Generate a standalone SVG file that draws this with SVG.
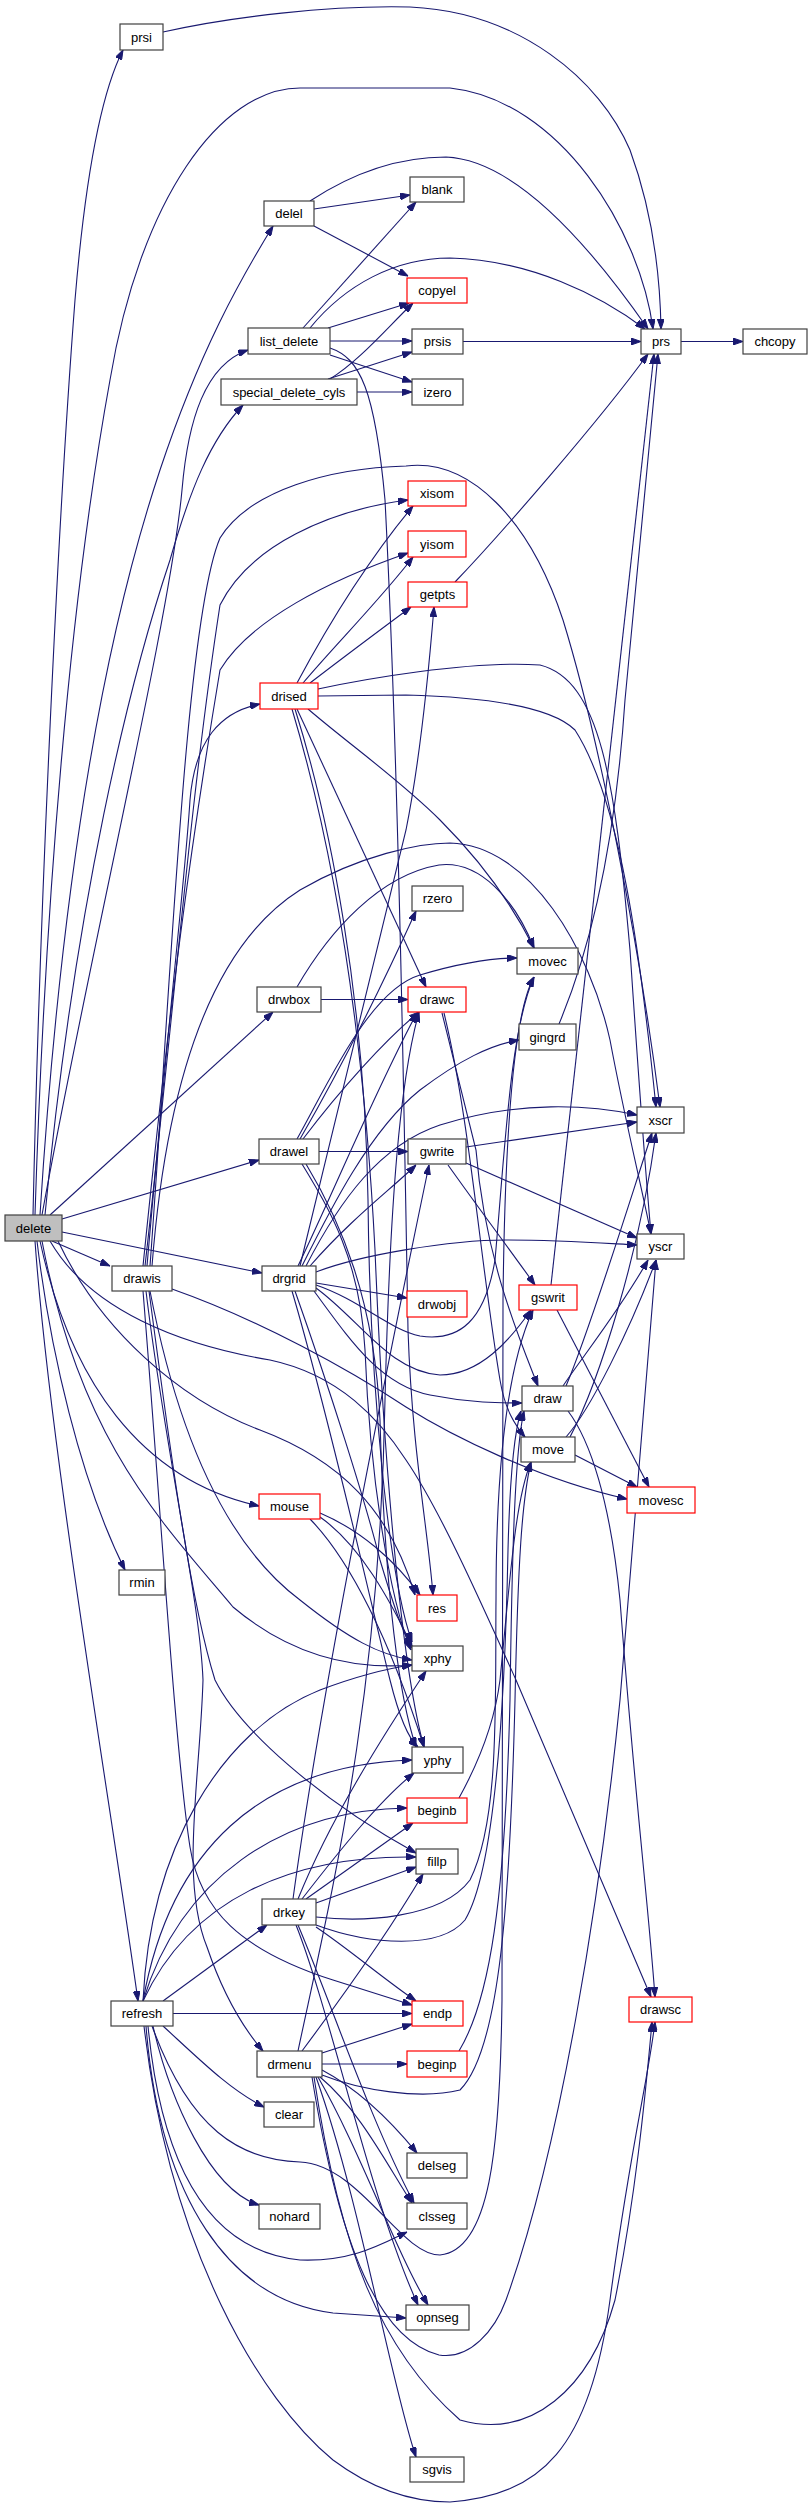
<svg xmlns="http://www.w3.org/2000/svg" width="812" height="2509" viewBox="0 0 812 2509">
<style>
.e{fill:none;stroke:#191970;stroke-width:1.1;marker-end:url(#ah)}
.n rect{fill:#fff;stroke:#404040;stroke-width:1.2}
.r rect{fill:#fff;stroke:#ff0000;stroke-width:1.2}
.g rect{fill:#bfbfbf;stroke:#404040;stroke-width:1.2}
text{font-family:"Liberation Sans",Arial,sans-serif;font-size:13px;text-anchor:middle;fill:#000}
</style>
<defs>
<marker id="ah" viewBox="0 0 10 7" refX="10" refY="3.5" markerWidth="10" markerHeight="7" markerUnits="userSpaceOnUse" orient="auto"><path d="M0,0L10,3.5L0,7z" fill="#191970" stroke="#191970" stroke-width="1"/></marker>
</defs>
<rect width="812" height="2509" fill="#fff"/>
<g id="edges">
<path class="e" d="M163,32 C230,17 330,5 410,7 C520,12 600,80 630,150 C652,210 660,270 661,329"/>
<path class="e" d="M33,1215 C40,900 58,520 75,300 C85,180 100,95 123,50"/>
<path class="e" d="M35,1215 C45,900 70,600 110,380 C140,200 220,88 300,88 L450,88 C560,100 640,230 653,329"/>
<path class="e" d="M40,1215 C60,900 100,650 160,470 C200,350 240,280 273,226"/>
<path class="e" d="M42,1215 C90,950 170,620 182,490 C188,420 205,365 248,350"/>
<path class="e" d="M45,1215 C75,900 130,680 170,560 C190,490 210,440 243,405"/>
<path class="e" d="M50,1215 L273,1012"/>
<path class="e" d="M62,1219 L259,1160"/>
<path class="e" d="M62,1232 L262,1273"/>
<path class="e" d="M52,1241 L110,1266"/>
<path class="e" d="M40,1241 C70,1380 140,1480 259,1506"/>
<path class="e" d="M37,1241 C50,1350 80,1480 125,1570"/>
<path class="e" d="M35,1241 C50,1450 110,1800 138,2001"/>
<path class="e" d="M50,1241 C90,1310 180,1345 270,1360 C340,1375 380,1420 406,1460 C440,1510 480,1600 516,1680 L651,1997"/>
<path class="e" d="M58,1241 C100,1330 180,1400 260,1430 C340,1460 390,1510 415,1595"/>
<path class="e" d="M42,1241 C80,1440 160,1520 233,1607 C290,1655 350,1670 412,1665"/>
<path class="e" d="M314,209 L410,195"/>
<path class="e" d="M314,226 L408,276"/>
<path class="e" d="M310,201 C345,178 390,157 446,157 C520,160 600,260 648,329"/>
<path class="e" d="M303,328 L416,202"/>
<path class="e" d="M328,328 L409,303"/>
<path class="e" d="M310,328 C345,285 395,258 450,258 C530,260 600,295 645,329"/>
<path class="e" d="M330,341 L412,341"/>
<path class="e" d="M330,355 L412,382"/>
<path class="e" d="M330,348 C360,358 375,390 385,500 C398,750 404,1100 408,1330 C412,1450 428,1530 433,1595"/>
<path class="e" d="M330,379 C360,360 385,330 413,303"/>
<path class="e" d="M328,379 L412,352"/>
<path class="e" d="M357,392 L412,392"/>
<path class="e" d="M463,341.5 L641,341.5"/>
<path class="e" d="M681,341.5 L743,341.5"/>
<path class="e" d="M455,582 C500,535 600,420 648,354"/>
<path class="e" d="M551,1285 L654,354"/>
<path class="e" d="M559,1024 C590,950 615,850 625,700 L658,354"/>
<path class="e" d="M297,683 C320,640 360,570 413,506"/>
<path class="e" d="M303,683 C335,645 380,600 413,557"/>
<path class="e" d="M310,683 C340,660 380,630 411,607"/>
<path class="e" d="M318,689 C360,680 470,660 540,665 C600,680 615,780 630,950 C640,1100 648,1200 651,1234"/>
<path class="e" d="M318,696 L406,695 C480,697 550,705 575,730 C620,800 640,950 656,1107"/>
<path class="e" d="M308,709 C350,745 400,780 440,820 C480,860 510,900 534,948"/>
<path class="e" d="M297,709 L426,987"/>
<path class="e" d="M295,709 C330,820 365,1000 368,1200 C370,1400 390,1580 412,1642"/>
<path class="e" d="M292,709 C328,830 362,1000 375,1250 C385,1500 405,1680 424,1747"/>
<path class="e" d="M147,1266 C170,1000 185,880 190,800 C195,740 220,712 260,704"/>
<path class="e" d="M145,1266 C175,1000 190,800 220,605 C250,545 330,510 408,500"/>
<path class="e" d="M143,1266 C170,1000 190,850 220,670 C250,620 330,580 408,553"/>
<path class="e" d="M150,1266 C170,1000 185,620 220,538 C250,490 330,468 406,466 C470,458 530,520 563,620 C600,740 640,950 660,1107"/>
<path class="e" d="M152,1266 C165,1100 205,950 300,890 C360,855 420,843 450,843 C530,845 590,950 610,1040 C625,1120 640,1180 651,1234"/>
<path class="e" d="M172,1289 C260,1320 350,1370 406,1407 C450,1435 540,1480 627,1499"/>
<path class="e" d="M143,1291 C160,1500 175,1750 190,1847 C200,1910 240,1950 333,1980 L412,2005"/>
<path class="e" d="M146,1291 C165,1450 200,1600 203,1680 C200,1780 180,1880 207,1947 C225,2000 245,2030 263,2051"/>
<path class="e" d="M149,1291 C170,1450 190,1600 215,1680 C240,1730 320,1800 416,1853"/>
<path class="e" d="M150,1291 C175,1420 220,1540 300,1600 C350,1640 380,1655 412,1660"/>
<path class="e" d="M321,999.5 L408,999.5"/>
<path class="e" d="M297,987 C330,930 380,875 439,865 C480,860 515,900 534,948"/>
<path class="e" d="M319,1151.5 L408,1151.5"/>
<path class="e" d="M300,1139 C340,1070 380,990 416,911"/>
<path class="e" d="M303,1139 C340,1090 385,1040 419,1012"/>
<path class="e" d="M297,1139 C330,1080 370,990 420,975 C460,963 490,958 517,958"/>
<path class="e" d="M302,1164 C330,1210 360,1260 365,1350 C370,1480 390,1600 411,1650"/>
<path class="e" d="M306,1164 C340,1220 375,1300 380,1420 C385,1600 400,1700 416,1747"/>
<path class="e" d="M300,1266 C340,1100 390,900 406,830 C420,760 428,680 434,607"/>
<path class="e" d="M298,1266 C330,1200 380,1080 417,1013"/>
<path class="e" d="M302,1266 C330,1210 370,1130 420,1090 C460,1060 490,1045 519,1040"/>
<path class="e" d="M306,1266 C340,1200 380,1145 440,1125 C520,1100 590,1105 637,1115"/>
<path class="e" d="M310,1266 C350,1220 390,1190 416,1165"/>
<path class="e" d="M316,1272 C360,1255 450,1240 506,1240 C560,1240 600,1243 637,1245"/>
<path class="e" d="M316,1283 L407,1298"/>
<path class="e" d="M316,1285 C360,1300 390,1330 420,1336 C460,1342 485,1320 495,1260 C505,1150 510,1030 534,977"/>
<path class="e" d="M316,1288 C360,1320 390,1372 440,1375 C480,1375 510,1340 531,1310"/>
<path class="e" d="M314,1291 C350,1340 380,1385 430,1395 C470,1403 500,1403 522,1403"/>
<path class="e" d="M295,1291 C330,1390 365,1500 380,1560 C395,1610 402,1630 412,1648"/>
<path class="e" d="M292,1291 C330,1420 370,1600 390,1680 C400,1720 410,1740 418,1747"/>
<path class="e" d="M466,1147 L637,1122"/>
<path class="e" d="M466,1163 L637,1238"/>
<path class="e" d="M448,1165 C480,1210 510,1250 535,1285"/>
<path class="e" d="M442,1013 L476,1150 C485,1260 520,1340 538,1386"/>
<path class="e" d="M444,1013 C470,1120 480,1260 500,1380 C505,1410 515,1425 525,1437"/>
<path class="e" d="M557,1310 L649,1487"/>
<path class="e" d="M563,1386 C580,1360 620,1310 648,1260"/>
<path class="e" d="M566,1386 C590,1330 630,1200 652,1133"/>
<path class="e" d="M566,1437 C590,1410 630,1330 656,1260"/>
<path class="e" d="M570,1437 C600,1380 640,1250 656,1133"/>
<path class="e" d="M575,1455 L637,1487"/>
<path class="e" d="M568,1411 C590,1440 610,1500 620,1600 C635,1800 648,1900 655,1997"/>
<path class="e" d="M320,1513 C360,1530 395,1560 420,1595"/>
<path class="e" d="M320,1517 C360,1545 390,1600 412,1646"/>
<path class="e" d="M310,1519 C350,1560 390,1640 424,1747"/>
<path class="e" d="M459,1798 C480,1760 495,1720 500,1680 C510,1580 515,1500 531,1462"/>
<path class="e" d="M459,2051 C490,2000 505,1900 510,1700 C512,1550 515,1450 524,1411"/>
<path class="e" d="M293,1899 C320,1700 380,1400 429,1165"/>
<path class="e" d="M298,1899 C330,1820 380,1740 426,1671"/>
<path class="e" d="M302,1899 C340,1850 380,1800 414,1773"/>
<path class="e" d="M306,1899 L413,1823"/>
<path class="e" d="M316,1903 L416,1867"/>
<path class="e" d="M316,1917 C360,1922 440,1920 470,1880 C500,1820 495,1700 496,1600 C496,1450 510,1360 533,1310"/>
<path class="e" d="M316,1925 C370,1945 440,1950 465,1920 C495,1870 505,1700 508,1550 C510,1470 515,1430 521,1411"/>
<path class="e" d="M316,1927 C350,1950 385,1980 416,2001"/>
<path class="e" d="M298,1925 C330,2000 370,2120 414,2203"/>
<path class="e" d="M296,1925 C330,2010 370,2200 418,2305"/>
<path class="e" d="M322,2053 L412,2024"/>
<path class="e" d="M322,2064 L407,2064"/>
<path class="e" d="M322,2070 C360,2090 390,2120 417,2153"/>
<path class="e" d="M320,2077 C360,2110 390,2170 412,2203"/>
<path class="e" d="M318,2077 C360,2150 395,2250 428,2305"/>
<path class="e" d="M316,2077 C360,2200 390,2380 416,2457"/>
<path class="e" d="M314,2077 C340,2250 380,2350 460,2420 C530,2440 590,2390 615,2300 C635,2200 645,2100 652,2022"/>
<path class="e" d="M312,2077 C340,2250 380,2340 439,2355 C470,2360 495,2330 506,2300 C560,2150 600,1900 620,1700 C635,1500 650,1320 656,1260"/>
<path class="e" d="M322,2075 C360,2090 420,2100 460,2090 C500,2050 510,1900 515,1700 C518,1560 522,1500 531,1462"/>
<path class="e" d="M298,2051 C330,1900 380,1700 385,1400 C390,1200 400,1080 419,1012"/>
<path class="e" d="M302,2051 C340,2000 390,1930 423,1874"/>
<path class="e" d="M163,2001 L267,1925"/>
<path class="e" d="M173,2013.5 L412,2013.5"/>
<path class="e" d="M163,2026 C200,2060 230,2090 264,2107"/>
<path class="e" d="M153,2026 C170,2100 210,2190 259,2205"/>
<path class="e" d="M148,2026 C160,2150 200,2250 300,2260 C350,2262 380,2245 407,2232"/>
<path class="e" d="M146,2026 C160,2200 230,2300 333,2313 L406,2318"/>
<path class="e" d="M152,2026 C190,2130 240,2160 300,2162 C360,2165 400,2255 440,2255 C490,2250 500,2150 502,2000 L503,1300 C505,1120 515,1010 534,977"/>
<path class="e" d="M144,2026 C170,2250 260,2400 333,2460 C380,2495 420,2502 450,2502 C540,2495 590,2450 610,2300 C630,2150 648,2080 655,2022"/>
<path class="e" d="M143,2001 C150,1850 220,1730 320,1690 C360,1675 390,1668 412,1665"/>
<path class="e" d="M143,2001 C170,1850 260,1765 412,1760"/>
<path class="e" d="M143,2001 C180,1880 280,1810 407,1808"/>
<path class="e" d="M143,2001 C190,1900 290,1855 416,1857"/>
</g>
<g id="node-delete" class="g"><rect x="5" y="1215" width="57" height="26"/><text x="33.5" y="1232.5">delete</text></g>
<g id="node-prsi" class="n"><rect x="120" y="24" width="43" height="26"/><text x="141.5" y="41.5">prsi</text></g>
<g id="node-drawis" class="n"><rect x="112" y="1266" width="60" height="25"/><text x="142" y="1283">drawis</text></g>
<g id="node-rmin" class="n"><rect x="119" y="1570" width="46" height="25"/><text x="142" y="1587">rmin</text></g>
<g id="node-refresh" class="n"><rect x="111" y="2001" width="62" height="25"/><text x="142" y="2018">refresh</text></g>
<g id="node-delel" class="n"><rect x="264" y="201" width="50" height="25"/><text x="289" y="218">delel</text></g>
<g id="node-list_delete" class="n"><rect x="248" y="328" width="82" height="26"/><text x="289" y="345.5">list_delete</text></g>
<g id="node-special_delete_cyls" class="n"><rect x="221" y="379" width="136" height="26"/><text x="289" y="396.5">special_delete_cyls</text></g>
<g id="node-drised" class="r"><rect x="260" y="683" width="58" height="26"/><text x="289" y="700.5">drised</text></g>
<g id="node-drwbox" class="n"><rect x="257" y="987" width="64" height="25"/><text x="289" y="1004">drwbox</text></g>
<g id="node-drawel" class="n"><rect x="259" y="1139" width="60" height="25"/><text x="289" y="1156">drawel</text></g>
<g id="node-drgrid" class="n"><rect x="262" y="1266" width="54" height="25"/><text x="289" y="1283">drgrid</text></g>
<g id="node-mouse" class="r"><rect x="259" y="1494" width="61" height="25"/><text x="289.5" y="1511">mouse</text></g>
<g id="node-drkey" class="n"><rect x="262" y="1899" width="54" height="26"/><text x="289" y="1916.5">drkey</text></g>
<g id="node-drmenu" class="n"><rect x="257" y="2051" width="65" height="26"/><text x="289.5" y="2068.5">drmenu</text></g>
<g id="node-clear" class="n"><rect x="264" y="2102" width="50" height="25"/><text x="289" y="2119">clear</text></g>
<g id="node-nohard" class="n"><rect x="259" y="2204" width="61" height="25"/><text x="289.5" y="2221">nohard</text></g>
<g id="node-blank" class="n"><rect x="410" y="177" width="54" height="25"/><text x="437" y="194">blank</text></g>
<g id="node-copyel" class="r"><rect x="407" y="278" width="60" height="25"/><text x="437" y="295">copyel</text></g>
<g id="node-prsis" class="n"><rect x="412" y="329" width="51" height="25"/><text x="437.5" y="346">prsis</text></g>
<g id="node-izero" class="n"><rect x="412" y="379" width="51" height="26"/><text x="437.5" y="396.5">izero</text></g>
<g id="node-xisom" class="r"><rect x="408" y="481" width="58" height="25"/><text x="437" y="498">xisom</text></g>
<g id="node-yisom" class="r"><rect x="408" y="531" width="58" height="26"/><text x="437" y="548.5">yisom</text></g>
<g id="node-getpts" class="r"><rect x="408" y="582" width="59" height="25"/><text x="437.5" y="599">getpts</text></g>
<g id="node-rzero" class="n"><rect x="412" y="886" width="51" height="25"/><text x="437.5" y="903">rzero</text></g>
<g id="node-drawc" class="r"><rect x="408" y="987" width="58" height="25"/><text x="437" y="1004">drawc</text></g>
<g id="node-gwrite" class="n"><rect x="408" y="1139" width="58" height="25"/><text x="437" y="1156">gwrite</text></g>
<g id="node-drwobj" class="r"><rect x="407" y="1291" width="60" height="26"/><text x="437" y="1308.5">drwobj</text></g>
<g id="node-res" class="r"><rect x="417" y="1595" width="40" height="26"/><text x="437" y="1612.5">res</text></g>
<g id="node-xphy" class="n"><rect x="412" y="1646" width="51" height="25"/><text x="437.5" y="1663">xphy</text></g>
<g id="node-yphy" class="n"><rect x="412" y="1747" width="51" height="26"/><text x="437.5" y="1764.5">yphy</text></g>
<g id="node-beginb" class="r"><rect x="407" y="1798" width="60" height="25"/><text x="437" y="1815">beginb</text></g>
<g id="node-fillp" class="n"><rect x="416" y="1849" width="42" height="25"/><text x="437" y="1866">fillp</text></g>
<g id="node-endp" class="r"><rect x="412" y="2001" width="51" height="25"/><text x="437.5" y="2018">endp</text></g>
<g id="node-beginp" class="r"><rect x="407" y="2051" width="60" height="26"/><text x="437" y="2068.5">beginp</text></g>
<g id="node-delseg" class="n"><rect x="407" y="2153" width="60" height="25"/><text x="437" y="2170">delseg</text></g>
<g id="node-clsseg" class="n"><rect x="407" y="2203" width="60" height="26"/><text x="437" y="2220.5">clsseg</text></g>
<g id="node-opnseg" class="n"><rect x="406" y="2305" width="63" height="25"/><text x="437.5" y="2322">opnseg</text></g>
<g id="node-sgvis" class="n"><rect x="410" y="2457" width="54" height="25"/><text x="437" y="2474">sgvis</text></g>
<g id="node-movec" class="n"><rect x="517" y="948" width="61" height="26"/><text x="547.5" y="965.5">movec</text></g>
<g id="node-gingrd" class="n"><rect x="519" y="1024" width="57" height="26"/><text x="547.5" y="1041.5">gingrd</text></g>
<g id="node-gswrit" class="r"><rect x="519" y="1285" width="58" height="25"/><text x="548" y="1302">gswrit</text></g>
<g id="node-draw" class="n"><rect x="522" y="1386" width="51" height="25"/><text x="547.5" y="1403">draw</text></g>
<g id="node-move" class="n"><rect x="521" y="1437" width="54" height="25"/><text x="548" y="1454">move</text></g>
<g id="node-prs" class="n"><rect x="641" y="329" width="40" height="25"/><text x="661" y="346">prs</text></g>
<g id="node-xscr" class="n"><rect x="637" y="1107" width="47" height="26"/><text x="660.5" y="1124.5">xscr</text></g>
<g id="node-yscr" class="n"><rect x="637" y="1234" width="47" height="25"/><text x="660.5" y="1251">yscr</text></g>
<g id="node-movesc" class="r"><rect x="627" y="1487" width="68" height="26"/><text x="661" y="1504.5">movesc</text></g>
<g id="node-drawsc" class="r"><rect x="629" y="1997" width="63" height="25"/><text x="660.5" y="2014">drawsc</text></g>
<g id="node-chcopy" class="n"><rect x="743" y="329" width="64" height="25"/><text x="775" y="346">chcopy</text></g>
</svg>
